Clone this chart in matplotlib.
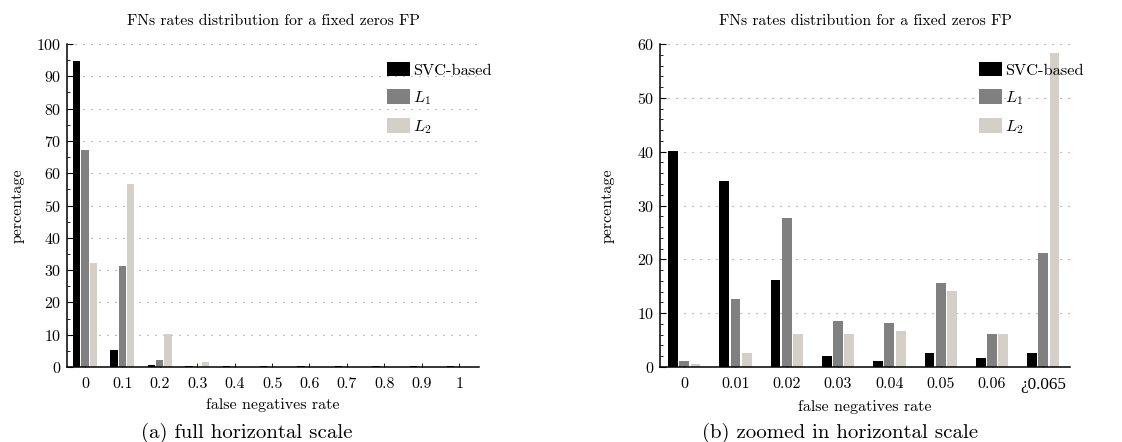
import numpy as np
import matplotlib
matplotlib.use("Agg")
import matplotlib.pyplot as plt
from matplotlib.ticker import MultipleLocator

plt.rcParams["font.family"] = ["cmr10", "DejaVu Serif"]
plt.rcParams["mathtext.fontset"] = "cm"
plt.rcParams["axes.formatter.use_mathtext"] = True

# ---- data -------------------------------------------------------------
series_names = ["SVC-based", "$L_1$", "$L_2$"]
series_colors = ["#000000", "#808080", "#d4d0c8"]

full_rates = [0.0, 0.1, 0.2, 0.3, 0.4, 0.5, 0.6, 0.7, 0.8, 0.9, 1.0]
full_tick_labels = ["0", "0.1", "0.2", "0.3", "0.4", "0.5", "0.6", "0.7", "0.8", "0.9", "1"]
full_svc = [94.7, 5.2, 0.5, 0.2, 0.2, 0.2, 0.2, 0.2, 0.2, 0.2, 0.2]
full_l1 = [67.1, 31.2, 2.1, 0.1, 0.1, 0.1, 0.1, 0.1, 0.1, 0.1, 0.1]
full_l2 = [32.2, 56.6, 10.3, 1.5, 0.1, 0.1, 0.1, 0.1, 0.1, 0.1, 0.1]

zoom_labels = ["0", "0.01", "0.02", "0.03", "0.04", "0.05", "0.06", "¿0.065"]
zoom_svc = [40.1, 34.5, 16.1, 2.0, 1.1, 2.6, 1.7, 2.6]
zoom_l1 = [1.1, 12.6, 27.6, 8.5, 8.2, 15.6, 6.1, 21.1]
zoom_l2 = [0.5, 2.6, 6.1, 6.1, 6.7, 14.1, 6.1, 58.4]

title_text = "FNs rates distribution for a fixed zeros FP"
x_label = "false negatives rate"
y_label = "percentage"
caption_a = "(a) full horizontal scale"
caption_b = "(b) zoomed in horizontal scale"

TICK_FS = 11.5
LABEL_FS = 11.5
TITLE_FS = 11.3
LEGEND_FS = 11.8
CAPTION_FS = 15


def style_axes(ax, ymax, ymajor, yminor, ylabel_x):
    ax.set_ylim(0, ymax)
    ax.yaxis.set_major_locator(MultipleLocator(ymajor))
    ax.yaxis.set_minor_locator(MultipleLocator(yminor))
    for side in ("top", "right"):
        ax.spines[side].set_visible(False)
    for side in ("left", "bottom"):
        ax.spines[side].set_linewidth(1.1)
    ax.tick_params(axis="y", which="major", direction="in", length=4, width=0.8,
                   labelsize=TICK_FS, pad=4)
    ax.tick_params(axis="y", which="minor", direction="in", length=2.5, width=0.6)
    ax.tick_params(axis="x", which="major", direction="in", length=3, width=0.6,
                   labelsize=TICK_FS, pad=7.5)
    ax.set_axisbelow(True)
    ax.yaxis.grid(True, which="major", color="#8a8a8a",
                  linestyle=(0, (1, 6.2)), linewidth=0.8)
    ax.set_title(title_text, fontsize=TITLE_FS, pad=14)
    ax.set_xlabel(x_label, fontsize=LABEL_FS, labelpad=5)
    ax.set_ylabel(y_label, fontsize=LABEL_FS)
    ax.yaxis.set_label_coords(ylabel_x, 0.5)


def draw_groups(ax, x, groups, width, pitch):
    for i, (vals, col, name) in enumerate(zip(groups, series_colors, series_names)):
        ax.bar(np.asarray(x) + (i - 1) * pitch, vals, width=width,
               color=col, label=name, zorder=2, linewidth=0)


def add_legend(ax):
    ax.legend(loc="upper left", bbox_to_anchor=(0.777, 0.945), frameon=False,
              fontsize=LEGEND_FS, handlelength=1.4, handleheight=0.98,
              handletextpad=0.2, labelspacing=0.7, borderpad=0,
              borderaxespad=0)


fig = plt.figure(figsize=(11.22, 4.42), dpi=100)

# full horizontal scale
ax1 = fig.add_axes([67 / 1122, 75 / 442, 412 / 1122, 323 / 442])
draw_groups(ax1, full_rates, [full_svc, full_l1, full_l2], width=0.0196, pitch=0.0223)
ax1.set_xlim(-0.048, 1.053)
ax1.set_xticks(full_rates)
ax1.set_xticklabels(full_tick_labels)
style_axes(ax1, 100, 10, 5, -0.104)
add_legend(ax1)

# zoomed in horizontal scale
ax2 = fig.add_axes([660 / 1122, 75 / 442, 410 / 1122, 323 / 442])
xz = np.arange(len(zoom_labels))
draw_groups(ax2, xz, [zoom_svc, zoom_l1, zoom_l2], width=0.19, pitch=0.22)
ax2.set_xlim(-0.47, 7.52)
ax2.set_xticks(xz)
ax2.set_xticklabels(zoom_labels)
style_axes(ax2, 60, 10, 2, -0.110)
# the inverted question mark is not in cmr10, so this label uses a serif that has it
ax2.get_xticklabels()[-1].set_fontfamily(["Liberation Serif"])
ax2.get_xticklabels()[-1].set_fontsize(TICK_FS + 0.8)
add_legend(ax2)

fig.text(247 / 1122, 1 - 433 / 442, caption_a, ha="center", va="center", fontsize=CAPTION_FS)
fig.text(840 / 1122, 1 - 433 / 442, caption_b, ha="center", va="center", fontsize=CAPTION_FS)

fig.savefig("out.png", dpi=100)
